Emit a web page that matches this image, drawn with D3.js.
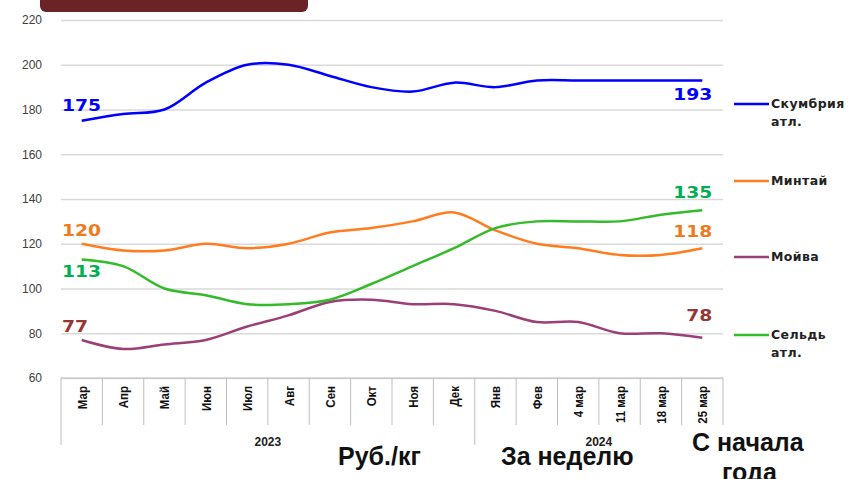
<!DOCTYPE html>
<meta charset="utf-8">
<style>
    body { margin: 0; background: #fff; }
    svg { font-family: Arial, "Liberation Sans", sans-serif; }
    .grid line { stroke: #d9d9d9; stroke-width: 1.5; }
    .grid path { display: none; }
    .axis--y text { fill: #404040; font-size: 12px; }
    .cat text { font-size: 12.5px; font-weight: bold; fill: #111; }
    .cat text.grp { font-size: 12px; fill: #222; }
    .sep { stroke: #bfbfbf; stroke-width: 1; }
    .series { fill: none; stroke-width: 2.5; }
    .vlabel { font-family: "DejaVu Sans", Verdana, sans-serif; font-weight: bold; font-size: 15px; }
    .legend text { font-family: "DejaVu Sans", Verdana, sans-serif; font-size: 12.5px; font-weight: bold; fill: #222; letter-spacing: 0.4px; }
    .note { font-size: 25px; font-weight: bold; fill: #111; }
</style>
<svg width="855" height="479"></svg>
<script src="https://cdn.jsdelivr.net/npm/d3@7/dist/d3.min.js"></script>
<script>

    var categories = ["Мар", "Апр", "Май", "Июн", "Июл", "Авг", "Сен", "Окт", "Ноя", "Дек",
                      "Янв", "Фев", "4 мар", "11 мар", "18 мар", "25 мар"];
    var groupLabels = ["2023", "2024"];
    var groupSizes = [10, 6];
    var yTicks = [60, 80, 100, 120, 140, 160, 180, 200, 220];

    var skumbria = [175, 178, 180, 192, 200, 200, 195, 190, 188, 192, 190, 193, 193, 193, 193, 193];
    var mintai   = [120, 117, 117, 120, 118, 120, 125, 127, 130, 134, 126, 120, 118, 115, 115, 118];
    var moiva    = [77, 73, 75, 77, 83, 88, 94, 95, 93, 93, 90, 85, 85, 80, 80, 78];
    var seld     = [113, 110, 100, 97, 93, 93, 95, 102, 110, 118, 127, 130, 130, 130, 133, 135];

    var seriesNames = ["Скумбрия атл.", "Минтай", "Мойва", "Сельдь атл."];
    var seriesColors = ["#0000ff", "#ff7c1f", "#9b3f78", "#33bb2a"];
    var labelColors = ["#0000ff", "#ee7a1c", "#953735", "#00b050"];

    var svg = d3.select("svg"),
        margin = {top: 20, right: 132, bottom: 101, left: 61},
        width = +svg.attr("width") - margin.left - margin.right,
        height = +svg.attr("height") - margin.top - margin.bottom;

    var g = svg.append("g")
        .attr("transform", "translate(" + margin.left + "," + margin.top + ")");

    // title plate, cut off at the top
    svg.append("rect")
        .attr("x", 40).attr("y", -12)
        .attr("width", 268).attr("height", 24)
        .attr("rx", 6)
        .attr("fill", "#6b2426");

    var x = d3.scaleBand().domain(categories).range([0, width]).padding(0);
    var y = d3.scaleLinear().domain([60, 220]).range([height, 0]);

    function cx(i) { return x(categories[i]) + x.bandwidth() / 2; }

    g.append("g")
        .attr("class", "grid")
        .call(d3.axisLeft(y).tickValues(yTicks).tickSize(-width).tickFormat(""));

    g.append("g")
        .attr("class", "axis--y")
        .attr("transform", "translate(-16,0)")
        .call(d3.axisLeft(y).tickValues(yTicks).tickSize(0))
        .call(function(a) { a.select(".domain").remove(); });

    // category axis box
    var cat = g.append("g").attr("class", "cat").attr("transform", "translate(0," + height + ")");

    cat.selectAll("line.div")
        .data(d3.range(categories.length + 1))
        .enter().append("line")
        .attr("class", "sep div")
        .attr("x1", function(i) { return i < categories.length ? x(categories[i]) : width; })
        .attr("x2", function(i) { return i < categories.length ? x(categories[i]) : width; })
        .attr("y1", 0)
        .attr("y2", 47);

    var starts = [0];
    groupSizes.forEach(function(s, i) { starts.push(starts[i] + s); });

    cat.selectAll("line.grp")
        .data(starts.slice(0, groupSizes.length))
        .enter().append("line")
        .attr("class", "sep grp")
        .attr("x1", function(i) { return x(categories[i]); })
        .attr("x2", function(i) { return x(categories[i]); })
        .attr("y1", 47)
        .attr("y2", 67);

    cat.selectAll("text.lbl")
        .data(categories)
        .enter().append("text")
        .attr("class", "lbl")
        .attr("transform", function(d, i) { return "translate(" + (cx(i) + 5) + ",8) rotate(-90) scale(0.92,1)"; })
        .attr("text-anchor", "end")
        .text(function(d) { return d; });

    cat.selectAll("text.grp")
        .data(groupLabels)
        .enter().append("text")
        .attr("class", "grp")
        .attr("x", function(d, i) {
            var a = x(categories[starts[i]]);
            var b = starts[i + 1] < categories.length ? x(categories[starts[i + 1]]) : width;
            return (a + b) / 2;
        })
        .attr("y", 68)
        .attr("text-anchor", "middle")
        .text(function(d) { return d; });

    g.append("line")
        .attr("class", "sep")
        .attr("x1", 0).attr("x2", width)
        .attr("y1", height).attr("y2", height);

    // lines
    var data = [skumbria, mintai, moiva, seld];
    var line = d3.line()
        .x(function(d, i) { return cx(i); })
        .y(function(d) { return y(d); })
        .curve(d3.curveCatmullRom.alpha(0.5));

    g.selectAll(".series")
        .data(data)
        .enter().append("path")
        .attr("class", "series")
        .attr("stroke", function(d, i) { return seriesColors[i]; })
        .attr("d", line);

    // value labels: first and last points
    var firstOffset = [-10, -8, -8, 18];
    var lastOffset = [20, -11, -17, -12];
    var last = categories.length - 1;

    data.forEach(function(s, i) {
        g.append("text")
            .attr("class", "vlabel")
            .attr("transform", "translate(1," + (y(s[0]) + firstOffset[i]) + ") scale(1.25,1)")
            .attr("fill", labelColors[i])
            .text(s[0]);
        g.append("text")
            .attr("class", "vlabel")
            .attr("transform", "translate(" + (cx(last) + 10) + "," + (y(s[last]) + lastOffset[i]) + ") scale(1.25,1)")
            .attr("text-anchor", "end")
            .attr("fill", labelColors[i])
            .text(s[last]);
    });

    // legend
    var legendY = [104, 181, 257, 335];
    var legend = svg.append("g").attr("class", "legend");
    seriesNames.forEach(function(name, i) {
        legend.append("line")
            .attr("x1", 734).attr("x2", 769)
            .attr("y1", legendY[i]).attr("y2", legendY[i])
            .attr("stroke", seriesColors[i])
            .attr("stroke-width", 2.5);
        var t = legend.append("text").attr("x", 771).attr("y", legendY[i] + 4);
        name.split(" ").forEach(function(w, k) {
            t.append("tspan").attr("x", 771).attr("dy", k ? 18 : 0).text(w);
        });
    });

    // notes under the chart
    svg.append("text").attr("class", "note").attr("x", 338).attr("y", 465).text("Руб./кг");
    svg.append("text").attr("class", "note").attr("x", 501).attr("y", 465).text("За неделю");
    svg.append("text").attr("class", "note").attr("x", 692).attr("y", 451).text("С начала");
    svg.append("text").attr("class", "note").attr("x", 722).attr("y", 481).text("года");
</script>
